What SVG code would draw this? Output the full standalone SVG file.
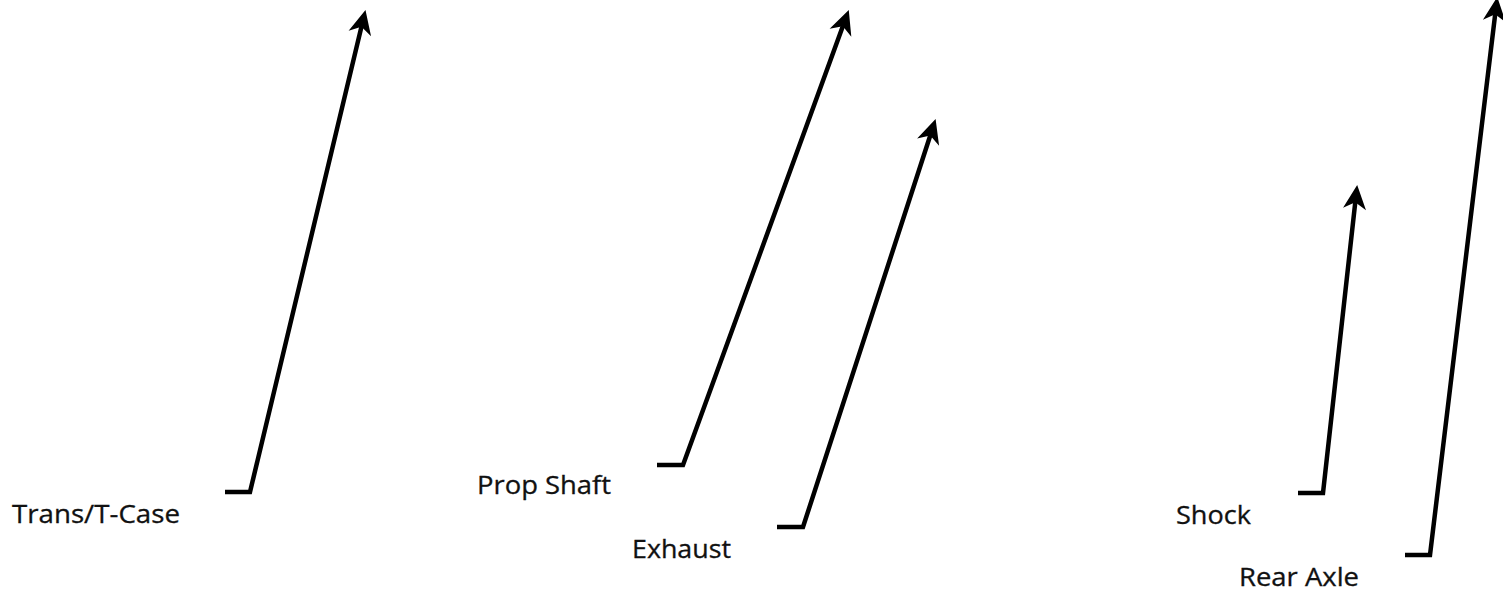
<svg xmlns="http://www.w3.org/2000/svg" width="1503" height="590" viewBox="0 0 1503 590">
<style>
.lbl{font-family:"Open Sans","Noto Sans","Liberation Sans",sans-serif;font-size:25px;fill:#111;stroke:#111;stroke-width:0.3}
.con{fill:none;stroke:#000;stroke-width:4.5;stroke-linejoin:miter;marker-end:url(#ah)}
</style>
<defs>
<marker id="ah" markerUnits="userSpaceOnUse" markerWidth="30" markerHeight="30" viewBox="-2 -12 26 24" refX="14" refY="0" orient="auto">
<path d="M0,-10 L21,0 L0,10 L6,0 z" fill="#000"/>
</marker>
</defs>
<rect width="1503" height="590" fill="#fff"/>
<g id="connectors">
<path class="con" d="M225,492 L250,492 L363.6,17.8"/>
<path class="con" d="M657,465 L683,465 L846,17.6"/>
<path class="con" d="M777,527 L803,527 L933.1,126.7"/>
<path class="con" d="M1298,493 L1323,493 L1356.3,193"/>
<path class="con" d="M1405,555 L1430,555 L1496.3,5"/>
</g>
<g id="trans"><text class="lbl" x="12" y="523" textLength="168" lengthAdjust="spacingAndGlyphs">Trans/T-Case</text></g>
<g id="prop"><text class="lbl" x="477" y="494" textLength="134" lengthAdjust="spacingAndGlyphs">Prop Shaft</text></g>
<g id="exhaust"><text class="lbl" x="632" y="558" textLength="99" lengthAdjust="spacingAndGlyphs">Exhaust</text></g>
<g id="shock"><text class="lbl" x="1176" y="524" textLength="75" lengthAdjust="spacingAndGlyphs">Shock</text></g>
<g id="rear"><text class="lbl" x="1239" y="586" textLength="120" lengthAdjust="spacingAndGlyphs">Rear Axle</text></g>
</svg>
